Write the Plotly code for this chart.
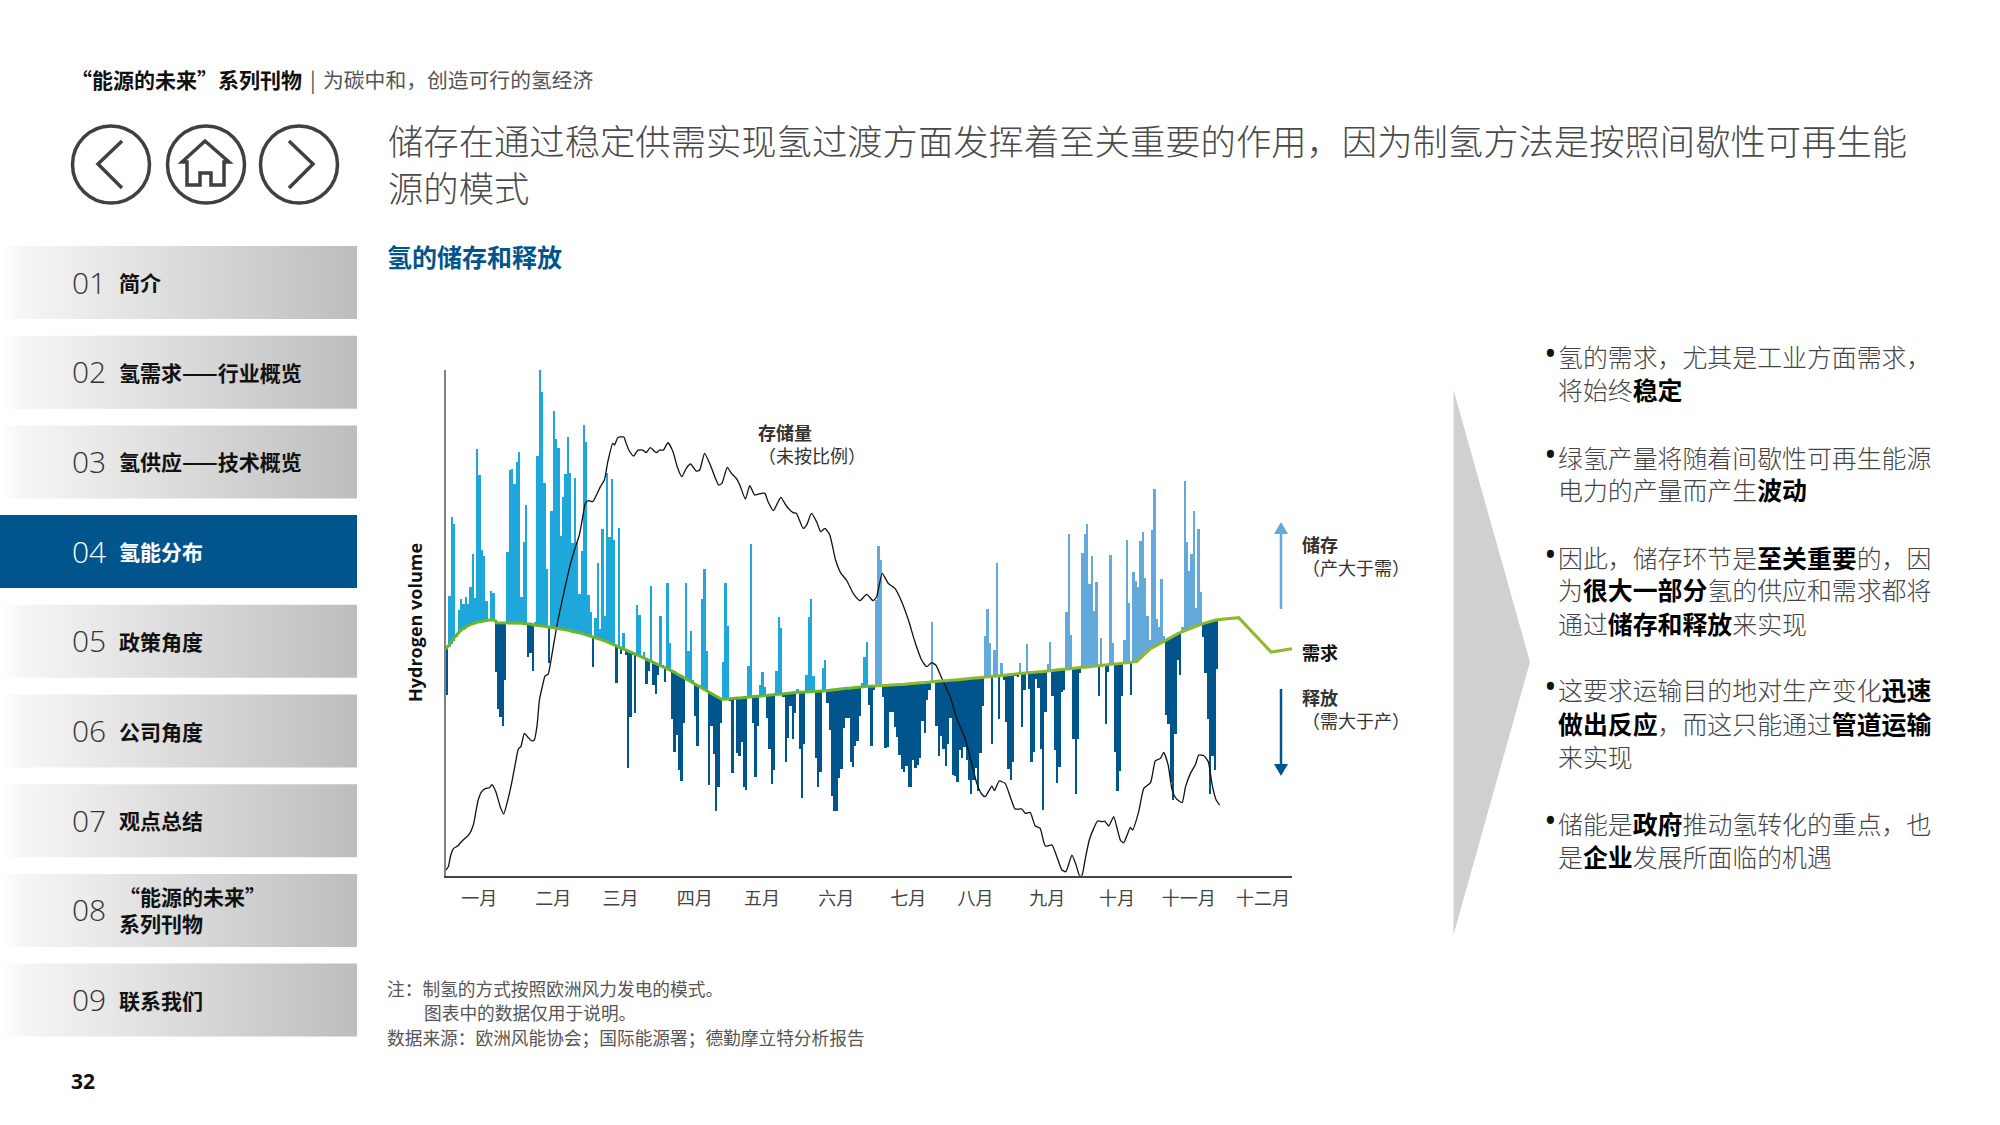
"""氢的储存和释放 page: daily production vs demand, with the report's page furniture."""
import plotly.graph_objects as go

# daily hydrogen production, arbitrary units (the chart has no y scale), from 1 Jan
production = [
    542, 839, 1077, 1055, 722, 797, 831, 814, 837, 814, 865, 965, 832, 1279, 1203, 976, 959, 825, 765, 855,
    849, 612, 500, 476, 450, 588, 971, 1217, 1220, 1175, 1240, 1270, 837, 1002, 1112, 655, 669, 613, 761, 1259,
    1517, 1450, 1178, 920, 639, 1094, 1395, 1309, 1282, 1020, 1137, 1206, 1317, 1207, 999, 1192, 1001, 845, 974, 1352,
    1300, 842, 790, 625, 774, 939, 739, 1039, 780, 1207, 1017, 1190, 1007, 577, 1043, 664, 727, 662, 322, 475,
    662, 487, 811, 782, 657, 672, 574, 615, 869, 572, 544, 602, 779, 627, 580, 877, 697, 469, 372, 422,
    317, 285, 459, 877, 674, 734, 587, 480, 389, 572, 830, 919, 674, 272, 450, 365, 195, 265, 457, 642,
    877, 749, 527, 309, 527, 367, 359, 402, 265, 257, 629, 994, 459, 295, 449, 572, 610, 565, 472, 379,
    274, 317, 615, 775, 742, 537, 342, 412, 509, 409, 487, 559, 379, 234, 395, 602, 775, 829, 599, 352,
    267, 312, 622, 647, 517, 437, 239, 194, 194, 294, 320, 442, 472, 472, 342, 327, 389, 405, 480, 579,
    655, 700, 512, 390, 557, 827, 990, 947, 537, 382, 385, 492, 492, 447, 417, 362, 320, 312, 330, 265,
    265, 347, 324, 332, 352, 465, 429, 527, 557, 760, 580, 450, 359, 419, 379, 330, 394, 472, 302, 299,
    282, 377, 354, 387, 347, 287, 245, 287, 322, 255, 367, 510, 719, 800, 697, 394, 677, 937, 470, 637,
    587, 462, 320, 287, 342, 602, 597, 637, 447, 557, 695, 559, 340, 372, 589, 564, 379, 197, 490, 635,
    700, 539, 377, 279, 325, 552, 557, 790, 1025, 722, 410, 244, 410, 607, 969, 1025, 1055, 874, 959, 794,
    881, 540, 712, 632, 455, 612, 962, 697, 372, 255, 314, 539, 707, 1007, 817, 542, 910, 884, 867, 1004,
    1032, 892, 780, 707, 1037, 1160, 770, 747, 890, 720, 482, 455, 282, 227, 425, 647, 602, 747, 1185, 1001,
    914, 964, 1095, 802, 1039, 850, 715, 609, 470, 245, 360, 317, 620,
]
# daily demand for the same days
demand = [
    679, 687, 695, 705, 716, 725, 732, 738, 743, 748, 751, 754, 757, 759, 761, 762, 764, 765, 766, 767,
    767, 767, 759, 759, 759, 759, 759, 759, 758, 758, 758, 757, 757, 757, 756, 756, 755, 755, 752, 752,
    751, 750, 749, 748, 746, 745, 744, 743, 742, 741, 740, 739, 737, 736, 734, 733, 731, 729, 728, 726,
    724, 722, 720, 718, 716, 714, 710, 709, 707, 704, 701, 698, 695, 693, 690, 687, 684, 681, 678, 674,
    671, 668, 665, 661, 658, 655, 652, 648, 645, 641, 638, 636, 633, 630, 627, 624, 620, 616, 613, 609,
    605, 601, 597, 593, 588, 584, 580, 576, 571, 567, 563, 559, 555, 552, 548, 544, 540, 536, 532, 529,
    529, 530, 530, 531, 532, 532, 533, 533, 534, 534, 535, 536, 536, 537, 538, 538, 539, 539, 540, 541,
    542, 542, 543, 544, 544, 545, 546, 547, 547, 548, 549, 549, 550, 550, 551, 551, 551, 552, 552, 553,
    553, 553, 554, 554, 555, 555, 556, 557, 558, 558, 559, 560, 561, 562, 562, 563, 564, 565, 566, 566,
    567, 567, 568, 568, 569, 569, 569, 570, 570, 571, 571, 571, 572, 572, 573, 573, 573, 574, 574, 575,
    576, 576, 577, 578, 578, 579, 579, 580, 581, 581, 582, 583, 583, 584, 584, 585, 585, 586, 586, 587,
    587, 588, 589, 589, 590, 591, 592, 592, 593, 593, 594, 595, 595, 596, 596, 597, 598, 598, 599, 600,
    601, 602, 603, 603, 604, 605, 606, 606, 607, 607, 608, 609, 609, 610, 610, 611, 612, 612, 613, 614,
    615, 615, 616, 617, 617, 618, 619, 619, 620, 620, 621, 622, 622, 623, 624, 625, 625, 626, 627, 627,
    628, 629, 630, 630, 631, 632, 633, 634, 635, 635, 636, 637, 637, 638, 639, 639, 640, 641, 642, 649,
    656, 663, 670, 676, 681, 685, 689, 693, 697, 701, 705, 709, 713, 717, 720, 724, 727, 730, 733, 736,
    739, 742, 744, 747, 750, 752, 755, 757, 759, 762, 764, 766, 767,
]
demand_tail_days = [337, 342, 356, 365]
demand_tail = [771, 774, 671, 681]

storage_days = [
    0.1, 1.2, 2.3, 3.5, 5.2, 7.3, 10.2, 12, 13.1, 14.1, 15.6, 17.4, 18.9, 20, 21.7, 23.6, 25.1, 26.5, 28.5, 30.4,
    31.4, 32.5, 34, 35.7, 37.1, 38.3, 39.5, 40.5, 41.9, 42.9, 44.3, 45.5, 47.7, 49.1, 51.3, 53.4, 55.6, 57.7, 59.2, 60.3,
    61.6, 63.5, 64.9, 66.8, 68.5, 70, 72.1, 72.9, 74.3, 76.9, 77.9, 79.3, 81.1, 82.9, 85.1, 86.5, 88.3, 90.9, 92.3, 94,
    95.9, 98.1, 99.9, 101.9, 103.8, 105.7, 108.1, 109.6, 111.7, 113.9, 116.1, 117.8, 119.2, 121.5, 123.3, 125.4, 126.9, 129.3, 131.2, 133.3,
    136.2, 137.7, 139.1, 141.4, 143.1, 144.6, 147, 149.9, 151.3, 154.2, 155.7, 157.8, 160, 161.8, 163.6, 165.7, 168.2, 170.5, 172.9, 175.8,
    178.7, 181.6, 184.4, 185.9, 188.3, 190.9, 193.8, 196.7, 199.6, 202.4, 205.3, 207.5, 209.6, 211.4, 214, 217.6, 220.4, 224, 226.9, 229.1,
    231.2, 232.7, 235.6, 236.7, 238.7, 241.3, 243.5, 245.6, 248.5, 250, 252.1, 254.3, 256.4, 258.6, 261.5, 263.6, 265.8, 267.5, 270.1, 271.9,
    273.4, 274.4, 275.9, 277.6, 279.5, 281.2, 283.1, 284.2, 286, 288.1, 289.6, 291, 292.4, 293.9, 295.3, 296.3, 298.9, 301.1, 304, 306.1,
    308.3, 309.7, 311.6, 313.3, 315, 317.6, 319.1, 321.2, 323.4, 324.8, 327, 328.9, 330.6, 332.3, 333.8,
]
storage_level = [
    17, 27, 62, 82, 89, 105, 124, 152, 192, 227, 252, 262, 264, 273, 252, 207, 185, 217, 277, 347,
    380, 387, 427, 414, 405, 407, 452, 527, 572, 599, 605, 647, 737, 787, 857, 922, 977, 1022, 1077, 1117,
    1125, 1122, 1139, 1167, 1187, 1242, 1297, 1292, 1314, 1316, 1297, 1274, 1259, 1276, 1277, 1269, 1284, 1269, 1277, 1277,
    1299, 1272, 1227, 1197, 1222, 1235, 1214, 1217, 1267, 1237, 1197, 1172, 1177, 1225, 1207, 1192, 1172, 1130, 1170, 1142,
    1147, 1147, 1122, 1095, 1117, 1135, 1109, 1089, 1087, 1042, 1052, 1087, 1062, 1032, 1042, 1022, 947, 907, 887, 847,
    825, 844, 825, 837, 907, 877, 862, 822, 767, 702, 647, 627, 639, 632, 592, 537, 472, 412, 337, 277,
    245, 237, 269, 255, 284, 277, 237, 200, 200, 187, 190, 149, 142, 89, 92, 57, 17, 12, 62, 32,
    0, 0, 52, 107, 142, 164, 162, 164, 149, 177, 142, 107, 99, 122, 145, 137, 192, 262, 279, 345,
    352, 370, 332, 257, 232, 219, 267, 307, 334, 362, 360, 342, 272, 227, 212,
]

month_days = [14, 46, 75, 107, 136, 168, 199, 228, 259, 289, 320, 352]
month_labels = ["一月", "二月", "三月", "四月", "五月", "六月", "七月", "八月", "九月", "十月", "十一月", "十二月"]

nav_numbers = ["01", "02", "03", "04", "05", "06", "07", "08", "09"]
nav_labels = ["简介", "氢需求——行业概览", "氢供应——技术概览", "氢能分布", "政策角度", "公司角度", "观点总结",
              "“能源的未来”<br>系列刊物", "联系我们"]

# (text lines, y centre) for the right-hand column
BOLD = '<span style="color:#000"><b>%s</b></span>'
bullets = [
    [("氢的需求，尤其是工业方面需求，", 358), ("将始终" + BOLD % "稳定", 391)],
    [("绿氢产量将随着间歇性可再生能源", 459), ("电力的产量而产生" + BOLD % "波动", 491)],
    [("因此，储存环节是" + BOLD % "至关重要" + "的，因", 559), ("为" + BOLD % "很大一部分" + "氢的供应和需求都将", 591),
     ("通过" + BOLD % "储存和释放" + "来实现", 625)],
    [("这要求运输目的地对生产变化" + BOLD % "迅速", 691), (BOLD % "做出反应" + "，而这只能通过" + BOLD % "管道运输", 725),
     ("来实现", 758)],
    [("储能是" + BOLD % "政府" + "推动氢转化的重点，也", 825), ("是" + BOLD % "企业" + "发展所面临的机遇", 858)],
]

CJK = "Noto Sans CJK SC, Noto Sans, sans-serif"
LATIN = "Open Sans, Noto Sans, sans-serif"
NAVY = "#00558c"
BRIGHT = "#1ea7da"
SKY = "#64a9db"
LIGHT_SWITCH = 185  # storage bars turn paler from July on
TEXT_NUDGE = -2.5   # annotation boxes sit a little low for these fonts

fig = go.Figure()


def bar_trace(days, name, color):
    fig.add_trace(go.Bar(
        x=[d + 0.5 for d in days], y=[production[d] - demand[d] for d in days],
        base=[demand[d] for d in days], width=1, name=name,
        marker=dict(color=color, line_width=0), hoverinfo="skip",
    ))


days = list(range(len(production)))
bar_trace([d for d in days if production[d] < demand[d]], "释放", NAVY)
bar_trace([d for d in days if production[d] > demand[d] and d < LIGHT_SWITCH], "储存", BRIGHT)
bar_trace([d for d in days if production[d] > demand[d] and d >= LIGHT_SWITCH], "储存", SKY)

fig.add_trace(go.Scatter(x=storage_days, y=storage_level, mode="lines", name="存储量",
                         line=dict(color="#111", width=1.3, shape="spline", smoothing=0.5), hoverinfo="skip"))
fig.add_trace(go.Scatter(x=days[:186], y=demand[:186], mode="lines", name="需求",
                         line=dict(color="#6eb52b", width=3), hoverinfo="skip"))
fig.add_trace(go.Scatter(x=days[185:] + demand_tail_days, y=demand[185:] + demand_tail, mode="lines", name="需求",
                         line=dict(color="#8cb92e", width=3), hoverinfo="skip"))

# nav buttons live on a hidden page-sized axis pair, so the gradient fill can be used
shapes, notes = [], []
for i, (num, lab) in enumerate(zip(nav_numbers, nav_labels)):
    top = 246 + 89.7 * i
    active = num == "04"
    fig.add_trace(go.Scatter(
        x=[0, 357, 357, 0, 0], y=[top, top, top + 73, top + 73, top], xaxis="x2", yaxis="y2",
        mode="lines", line_width=0, fill="toself", hoverinfo="skip",
        fillcolor=NAVY if active else None,
        fillgradient=None if active else dict(type="horizontal", colorscale=[[0, "#ffffff"], [0.06, "#f6f6f6"], [1, "#bdbdbd"]]),
    ))
    notes.append((71, top + 38.5, num, 30, "#fff" if active else "#333", LATIN, 300))
    notes.append((118, top + 38.5, f"<b>{lab}</b>", 21, "#fff" if active else "#111", CJK, 400))

notes += [
    (70, 81, "<b>“能源的未来”系列刊物</b>", 21, "#111", CJK, 400),
    (309, 81, "|", 21, "#555", CJK, 400),
    (322, 81, "为碳中和，创造可行的氢经济", 20.8, "#555", CJK, 400),
    (387, 142, "储存在通过稳定供需实现氢过渡方面发挥着至关重要的作用，因为制氢方法是按照间歇性可再生能", 35.35, "#4a4a4a", CJK, 300),
    (387, 189, "源的模式", 35.35, "#4a4a4a", CJK, 300),
    (386, 258, "<b>氢的储存和释放</b>", 25, NAVY, CJK, 400),
    (757, 445.5, "<b>存储量</b><br>（未按比例）", 18, "#333", CJK, 400),
    (1301, 557.5, "<b>储存</b><br>（产大于需）", 18, "#333", CJK, 400),
    (1301, 654, "<b>需求</b>", 18, "#111", CJK, 400),
    (1301, 710.5, "<b>释放</b><br>（需大于产）", 18, "#333", CJK, 400),
    (386, 990, "注：制氢的方式按照欧洲风力发电的模式。", 17.7, "#555", CJK, 400),
    (423, 1014, "图表中的数据仅用于说明。", 17.7, "#555", CJK, 400),
    (386, 1039.5, "数据来源：欧洲风能协会；国际能源署；德勤摩立特分析报告", 17.7, "#555", CJK, 400),
    (70, 1083, "<b>32</b>", 21, "#111", LATIN, 400),
]
for block in bullets:
    notes.append((1543, block[0][1] - 3, "•", 34, "#111", LATIN, 400))
    for text, y in block:
        notes.append((1556.5, y, text, 24.9, "#444", CJK, 300))

annotations = [
    dict(x=x, y=y + TEXT_NUDGE, xref="x2", yref="y2", text=text, showarrow=False, xanchor="left", yanchor="middle", align="left",
         font=dict(family=fam, size=size, color=color, weight=weight), borderpad=0)
    for x, y, text, size, color, fam, weight in notes
]
annotations.append(dict(x=415, y=623, xref="x2", yref="y2", text="<b>Hydrogen volume</b>", textangle=-90,
                        showarrow=False, font=dict(family=LATIN, size=18, color="#111")))

# navigation icons
ICON = dict(color="#3f3f45", width=3.5)
for cx in (111, 206, 299):
    shapes.append(dict(type="circle", xref="x2", yref="y2", x0=cx - 38.5, x1=cx + 38.5, y0=126, y1=203, line=ICON))
for path in ("M 122 141 L 98 164 L 122 188", "M 289 141 L 313 164 L 289 188",
             "M 182 162 L 205 141 L 229 162 L 224 162 L 224 185 L 211 185 L 211 173 L 200 173 L 200 185 L 187 185 L 187 162 Z"):
    shapes.append(dict(type="path", xref="x2", yref="y2", path=path, line=ICON))
# legend arrows and the grey chevron
shapes += [
    dict(type="line", xref="x2", yref="y2", x0=1281, x1=1281, y0=609, y1=530, line=dict(color=SKY, width=2.5)),
    dict(type="path", xref="x2", yref="y2", path="M 1274 534 L 1281 522 L 1288 534 Z", fillcolor=SKY, line_width=0),
    dict(type="line", xref="x2", yref="y2", x0=1281, x1=1281, y0=689, y1=768, line=dict(color=NAVY, width=2.5)),
    dict(type="path", xref="x2", yref="y2", path="M 1274 764 L 1281 776 L 1288 764 Z", fillcolor=NAVY, line_width=0),
    dict(type="path", xref="x2", yref="y2", path="M 1453.5 390 L 1530 662 L 1453.5 935 Z", fillcolor="#d0d0d0", line_width=0, layer="below"),
]

fig.update_layout(
    width=2000, height=1125, autosize=False, margin=dict(l=0, r=0, t=0, b=0),
    paper_bgcolor="white", plot_bgcolor="rgba(0,0,0,0)", barmode="overlay", bargap=0, showlegend=False,
    font=dict(family=CJK),
    xaxis=dict(domain=[445.5 / 2000, 1292 / 2000], range=[0, 365], showgrid=False, zeroline=False,
               showline=True, linecolor="#444", linewidth=2, tickvals=[d + 0.5 for d in month_days], ticktext=month_labels,
               ticks="outside", ticklen=6, tickcolor="rgba(0,0,0,0)", tickfont=dict(size=18, color="#444")),
    yaxis=dict(domain=[1 - 875.7 / 1125, 1 - 370 / 1125], range=[0, 1517], showgrid=False, zeroline=False,
               showline=True, linecolor="#808080", linewidth=2, showticklabels=False, ticks=""),
    xaxis2=dict(domain=[0, 1], range=[0, 2000], visible=False, anchor="y2", fixedrange=True),
    yaxis2=dict(domain=[0, 1], range=[1125, 0], visible=False, anchor="x2", fixedrange=True),
    shapes=shapes, annotations=annotations,
)

# the page's default body margin would push everything 8px down and right
fig.write_html("out.html", config={"displayModeBar": False},
               post_script="document.body.style.margin='0';document.documentElement.style.overflow='hidden';")
